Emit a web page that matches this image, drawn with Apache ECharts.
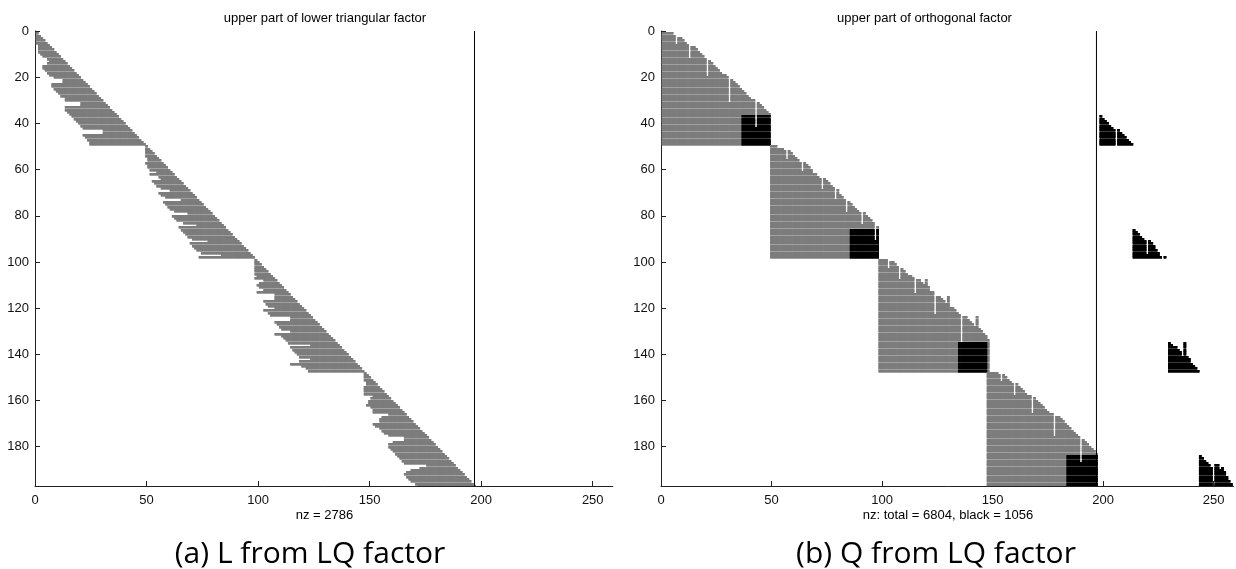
<!DOCTYPE html>
<html>
<head>
<meta charset="utf-8">
<style>
  html, body { margin: 0; padding: 0; background: #fff; }
  #main { width: 1236px; height: 569px; }
</style>
<script src="https://cdn.jsdelivr.net/npm/echarts@6/dist/echarts.min.js"></script>
</head>
<body>
<div id="main"></div>
<script>
var xTicks = [0, 50, 100, 150, 200, 250];
var yTicks = [0, 20, 40, 60, 80, 100, 120, 140, 160, 180];
var diagLineCol = [197, 197];
var diagLineRow = [0, 197];

// L: first and last nonzero column of rows 1..197
var lFirstCol = [
  1, 1, 1, 1, 1, 2, 2, 2, 2, 3, 4, 6, 7, 6, 4, 4, 5, 6, 7, 9, 13, 13, 8, 8, 9, 10, 11, 12, 14, 14, 21, 21, 14, 14, 15, 16, 17, 18, 19, 20, 21, 22, 31, 31, 22, 23, 24, 25, 25,
  50, 50, 50, 50, 50, 51, 51, 50, 51, 51, 52, 55, 52, 56, 57, 53, 54, 55, 57, 61, 56, 57, 59, 66, 58, 59, 60, 61, 63, 69, 62, 63, 64, 67, 73, 65, 66, 67, 68, 69, 71, 78, 70, 71, 72, 73, 75, 84, 74,
  99, 99, 99, 99, 99, 99, 99, 100, 99, 103, 101, 100, 101, 103, 100, 108, 108, 108, 103, 104, 105, 108, 103, 105, 106, 115, 115, 108, 109, 110, 111, 115, 108, 111, 112, 113, 114, 124, 115, 116, 117, 118, 119, 124, 119, 115, 120, 122, 123,
  148, 148, 148, 148, 149, 149, 148, 148, 148, 148, 152, 151, 150, 150, 149, 151, 152, 152, 159, 156, 155, 155, 152, 153, 155, 156, 157, 159, 166, 166, 161, 159, 159, 160, 161, 162, 163, 164, 165, 166, 176, 173, 169, 167, 166, 167, 168, 169, 171, 172
];
var lLastCol = [
  1, 2, 3, 4, 5, 6, 7, 8, 9, 10, 11, 12, 13, 14, 15, 16, 17, 18, 19, 20, 21, 22, 23, 24, 25, 26, 27, 28, 29, 30, 31, 32, 33, 34, 35, 36, 37, 38, 39, 40, 41, 42, 43, 44, 45, 46, 47, 48, 49,
  50, 51, 52, 53, 54, 55, 56, 57, 58, 59, 60, 61, 62, 63, 64, 65, 66, 67, 68, 69, 70, 71, 72, 73, 74, 75, 76, 77, 78, 79, 80, 81, 82, 83, 84, 85, 86, 87, 88, 89, 90, 91, 92, 93, 94, 95, 96, 97, 98,
  99, 100, 101, 102, 103, 104, 105, 106, 107, 108, 109, 110, 111, 112, 113, 114, 115, 116, 117, 118, 119, 120, 121, 122, 123, 124, 125, 126, 127, 128, 129, 130, 131, 132, 133, 134, 135, 136, 137, 138, 139, 140, 141, 142, 143, 144, 145, 146, 147,
  148, 149, 150, 151, 152, 153, 154, 155, 156, 157, 158, 159, 160, 161, 162, 163, 164, 165, 166, 167, 168, 169, 170, 171, 172, 173, 174, 175, 176, 177, 178, 179, 180, 181, 182, 183, 184, 185, 186, 187, 188, 189, 190, 191, 192, 193, 194, 195, 196, 197
];

// Q: topmost nonzero row of columns 1..197
var qTopRow = [
  1, 1, 1, 1, 1, 2, 6, 3, 3, 4, 5, 6, 12, 7, 7, 8, 9, 10, 11, 12, 20, 13, 14, 15, 16, 17, 18, 19, 19, 20, 31, 21, 22, 23, 24, 25, 26, 27, 28, 29, 30, 30, 42, 31, 32, 33, 34, 35, 36,
  50, 50, 50, 51, 51, 51, 52, 56, 52, 53, 54, 55, 56, 57, 61, 57, 58, 59, 60, 62, 62, 63, 64, 69, 64, 65, 66, 67, 68, 73, 69, 71, 72, 73, 79, 74, 75, 76, 77, 78, 79, 84, 79, 80, 81, 82, 83, 91, 85,
  99, 99, 99, 99, 103, 100, 100, 101, 102, 108, 103, 104, 105, 106, 106, 107, 114, 108, 108, 109, 110, 108, 111, 113, 113, 123, 115, 115, 116, 117, 118, 115, 120, 120, 121, 122, 123, 135, 124, 124, 125, 126, 127, 128, 124, 129, 130, 131, 132, 134,
  148, 148, 148, 148, 149, 152, 149, 150, 151, 152, 153, 158, 153, 154, 155, 156, 157, 158, 158, 166, 159, 160, 161, 162, 163, 164, 165, 166, 166, 176, 167, 167, 168, 169, 170, 171, 172, 173, 174, 175, 176, 187, 177, 178, 179, 180, 181, 182, 183, 183
];
// the four square blocks on the diagonal
var qBlockFirstCol = [1, 50, 99, 148];
var qBlockLastCol = [49, 98, 147, 197];
var qBlackFromCol = [37, 86, 135, 184];

// black triangles right of the line: columns and their top row, 0 = empty column
var qTriCols = [
  [199, 200, 201, 202, 203, 204, 205, 206, 207, 208, 209, 210, 211, 212, 213],
  [214, 215, 216, 217, 218, 219, 220, 221, 222, 223, 224, 225, 226, 227, 228],
  [230, 231, 232, 233, 234, 235, 236, 237, 238, 239, 240, 241, 242, 243],
  [244, 245, 246, 247, 248, 249, 250, 251, 252, 253, 254, 255, 256, 257, 258]
];
var qTriTop = [
  [37, 38, 39, 40, 41, 42, 43, 0, 43, 44, 45, 46, 47, 48, 49],
  [86, 87, 88, 89, 90, 91, 97, 91, 92, 93, 95, 96, 98, 0, 98],
  [135, 136, 137, 137, 138, 139, 141, 135, 141, 142, 144, 145, 146, 147],
  [184, 185, 186, 187, 188, 189, 0, 188, 188, 190, 189, 191, 193, 195, 196]
];
var qTriBottom = [49, 98, 147, 197];

var lCells = [];
lFirstCol.forEach(function (first, i) {
  for (var c = first; c <= lLastCol[i]; c++) lCells.push([c, i + 1]);
});

var qGrey = [];
var qBlack = [];
qBlockFirstCol.forEach(function (firstCol, b) {
  for (var c = firstCol; c <= qBlockLastCol[b]; c++) {
    for (var r = qTopRow[c - 1]; r <= qBlockLastCol[b]; r++) {
      if (c >= qBlackFromCol[b] && r >= qBlackFromCol[b]) qBlack.push([c, r]);
      else qGrey.push([c, r]);
    }
  }
});
qTriCols.forEach(function (cols, b) {
  cols.forEach(function (c, i) {
    if (!qTriTop[b][i]) return;
    for (var r = qTriTop[b][i]; r <= qTriBottom[b]; r++) qBlack.push([c, r]);
  });
});

// spy marks, y snapped to whole pixels so rows beat against the pixel grid
function cellSeries(idx, cells, color, h) {
  return {
    type: "custom",
    xAxisIndex: idx,
    yAxisIndex: idx,
    data: cells,
    encode: { x: 0, y: 1 },
    silent: true,
    animation: false,
    progressive: 0,
    clip: true,
    renderItem: function (params, api) {
      var p = api.coord([api.value(0), api.value(1)]);
      return {
        type: "rect",
        shape: { x: p[0] - 1.4, y: Math.round(p[1]) - 1, width: 2.8, height: h },
        style: { fill: color },
      };
    },
  };
}

function lineSeries(idx) {
  return {
    type: "line",
    xAxisIndex: idx,
    yAxisIndex: idx,
    data: diagLineCol.map(function (c, i) {
      return [c, diagLineRow[i]];
    }),
    symbol: "none",
    silent: true,
    animation: false,
    lineStyle: { color: "#000", width: 1 },
    z: 5,
  };
}

function xAxis(idx) {
  return {
    type: "value",
    gridIndex: idx,
    min: 0,
    max: 259,
    interval: 50,
    splitLine: { show: false },
    axisLine: { onZero: false, lineStyle: { color: "#222", width: 1 } },
    axisTick: { inside: true, length: 5, customValues: xTicks, lineStyle: { color: "#222" } },
    axisLabel: { customValues: xTicks, color: "#111", fontSize: 13, margin: 8, fontFamily: "Liberation Sans" },
  };
}

function yAxis(idx) {
  return {
    type: "value",
    gridIndex: idx,
    inverse: true,
    min: 0,
    max: 197,
    interval: 20,
    splitLine: { show: false },
    axisLine: { onZero: false, lineStyle: { color: "#222", width: 1 } },
    axisTick: { inside: true, length: 5, customValues: yTicks, lineStyle: { color: "#222" } },
    axisLabel: { customValues: yTicks, color: "#111", fontSize: 13, margin: 6, fontFamily: "Liberation Sans" },
  };
}

function label(text, x, y, size, font) {
  return {
    text: text,
    left: x,
    top: y,
    textAlign: "center",
    textStyle: { color: "#000", fontSize: size, fontWeight: "normal", fontFamily: font },
  };
}

var myChart = echarts.init(document.getElementById("main"), null, { renderer: "canvas" });
myChart.setOption({
  backgroundColor: "#fff",
  animation: false,
  title: [
    label("upper part of lower triangular factor", 320, 7, 13, "Liberation Sans"),
    label("upper part of orthogonal factor", 919.5, 7, 13, "Liberation Sans"),
    label("nz = 2786", 319.5, 504, 13, "Liberation Sans"),
    label("nz: total = 6804, black = 1056", 943, 504, 13, "Liberation Sans"),
    label("(a) L from LQ factor", 305, 534, 30, "Open Sans"),
    label("(b) Q from LQ factor", 931, 534, 30, "Open Sans"),
  ],
  grid: [
    { left: 35, top: 31, width: 577.8, height: 455 },
    { left: 661, top: 31, width: 572.5, height: 455 },
  ],
  xAxis: [xAxis(0), xAxis(1)],
  yAxis: [yAxis(0), yAxis(1)],
  series: [
    cellSeries(0, lCells, "#a0a0a0", 3),
    cellSeries(0, lCells, "#7c7c7c", 2),
    cellSeries(1, qGrey, "#a0a0a0", 3),
    cellSeries(1, qBlack, "#3a3a3a", 3),
    cellSeries(1, qGrey, "#7c7c7c", 2),
    cellSeries(1, qBlack, "#000", 2),
    lineSeries(0),
    lineSeries(1),
  ],
});
</script>
</body>
</html>
